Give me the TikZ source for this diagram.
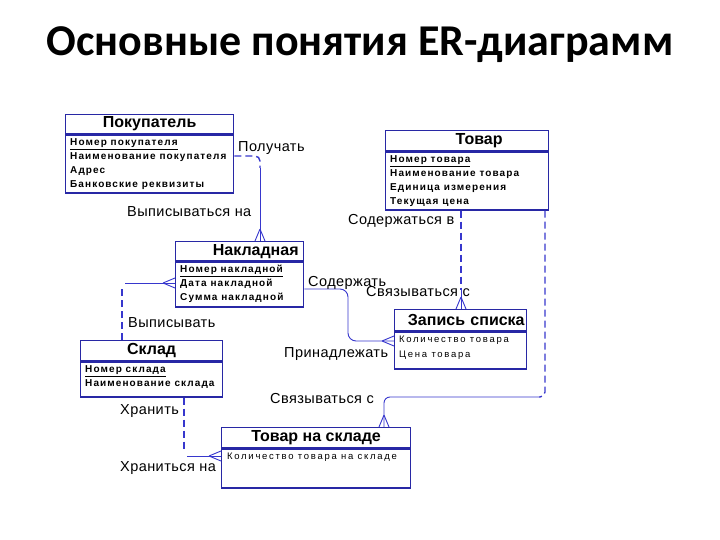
\documentclass[tikz,border=0pt]{standalone}
\usepackage{fontspec}
\setmainfont{Liberation Sans}
\newfontfamily\titlefamily{Carlito}
\newfontfamily\attrfamily[LetterSpace=11]{Liberation Sans}
\newfontfamily\thinfamily[LetterSpace=18]{Liberation Sans}
\newfontfamily\lblfamily[LetterSpace=3]{Liberation Sans}
\usepackage{tikz}
\usetikzlibrary{calc}
\usepackage{xcolor}
\definecolor{erblue}{RGB}{40,40,165}
\definecolor{lnblue}{RGB}{55,55,205}
\newcommand{\lblfont}{\fontsize{14.5}{16}\selectfont\lblfamily}
\newcommand{\headfont}{\fontsize{16}{18}\selectfont\bfseries}
\newcommand{\attrfont}{\fontsize{10}{14}\selectfont\attrfamily\bfseries}
\newcommand{\thinfont}{\fontsize{9.5}{15}\selectfont\thinfamily}

\begin{document}
\begin{tikzpicture}[x=1pt,y=-1pt,font=\lblfont]
      \tikzstyle{enthead}=[draw=erblue,line width=1.3pt,anchor=north west,inner sep=0pt,font=\headfont]
      \tikzstyle{entbody}=[draw=erblue,line width=1.3pt,anchor=north west,inner sep=0pt]
      \tikzstyle{attr}=[anchor=north west,align=left,inner xsep=0pt,inner ysep=4pt,font=\attrfont]
      \tikzstyle{attr thin}=[attr,font=\thinfont]
      \tikzstyle{rel}=[anchor=base west,inner sep=0pt]
      \tikzstyle{conn}=[lnblue,line width=0.9pt]
      \tikzstyle{conn dash}=[lnblue,line width=1.4pt,dash pattern=on 7pt off 4pt]
      \tikzset{crow/.pic={\draw[conn] (-12,0) -- (0,-5) (-12,0) -- (0,5);}}
      \useasboundingbox (0,0) rectangle (720,540);
      \node(title) at (360,45) {\fontsize{44}{48}\selectfont\titlefamily\bfseries Основные понятия ER-диаграмм};
      % entities
      \node(pok)[enthead,minimum width=168pt,minimum height=19pt] at (65,114) {Покупатель};
      \node(pokb)[entbody,minimum width=168pt,minimum height=58pt] at (pok.south west) {};
      \node(poka)[attr] at ([xshift=5pt]pokb.north west) {\underline{Номер покупателя}\\Наименование покупателя\\Адрес\\Банковские реквизиты};
      \node(tovar)[enthead,minimum width=163pt,minimum height=20pt] at (385,130) {\hspace*{24pt}Товар};
      \node(tovarb)[entbody,minimum width=163pt,minimum height=58pt] at (tovar.south west) {};
      \node(tovara)[attr] at ([xshift=5pt]tovarb.north west) {\underline{Номер товара}\\Наименование товара\\Единица измерения\\Текущая цена};
      \node(nakl)[enthead,minimum width=128pt,minimum height=19pt,text width=118pt,align=right] at (175,241) {Накладная};
      \node(naklb)[entbody,minimum width=128pt,minimum height=45pt] at (nakl.south west) {};
      \node(nakla)[attr] at ([xshift=5pt]naklb.north west) {\underline{Номер накладной}\\Дата накладной\\Сумма накладной};
      \node(zap)[enthead,minimum width=132pt,minimum height=21pt,text width=128pt,align=right] at (394,309) {Запись списка};
      \node(zapb)[entbody,minimum width=132pt,minimum height=37pt] at (zap.south west) {};
      \node(zapa)[attr thin] at ([xshift=5pt]zapb.north west) {Количество товара\\Цена товара};
      \node(sklad)[enthead,minimum width=142pt,minimum height=20pt] at (80,340) {Склад};
      \node(skladb)[entbody,minimum width=142pt,minimum height=35pt] at (sklad.south west) {};
      \node(sklada)[attr] at ([xshift=5pt]skladb.north west) {\underline{Номер склада}\\Наименование склада};
      \node(tns)[enthead,minimum width=189pt,minimum height=20pt] at (221,427) {Товар на складе};
      \node(tnsb)[entbody,minimum width=189pt,minimum height=39pt] at (tns.south west) {};
      \node(tnsa)[attr thin] at ([xshift=6pt]tnsb.north west) {Количество товара на складе};
      % bends
      \coordinate(b1) at (260,156);
      \coordinate(b2) at (461,290);
      \coordinate(b3) at (348,289);
      \coordinate(b3b) at (348,341);
      \coordinate(b4) at (122,283);
      \coordinate(b5) at (184,456);
      \coordinate(b6) at (545,397);
      \coordinate(b6b) at (384,397);
      % Покупатель -- Накладная
      \draw[conn dash,rounded corners=5pt] (pokb.east |- b1) -- (b1) -- ++(0,12) coordinate(b1e);
      \draw[conn] (b1e) -- (nakl.north -| b1);
      \pic[rotate=-90] at (nakl.north -| b1) {crow};
      \node(r1)[rel] at (238,152) {Получать};
      \node(r2)[rel] at (127,217) {Выписываться на};
      % Товар -- Запись списка
      \draw[conn dash] (tovarb.south -| b2) -- (b2);
      \draw[conn] (b2) -- (zap.north -| b2);
      \pic[rotate=-90] at (zap.north -| b2) {crow};
      \node(r3)[rel] at (348,225) {Содержаться в};
      \node(r4)[rel] at (366,296) {Связываться с};
      % Накладная -- Запись списка
      \draw[conn,rounded corners=8pt] (naklb.east |- b3) -- (b3) -- (b3b) -- (zapb.west |- b3b);
      \pic at (zapb.west |- b3b) {crow};
      \node(r5)[rel] at (308,286) {Содержать};
      \node(r6)[rel] at (284,357) {Принадлежать};
      % Склад -- Накладная
      \draw[conn dash] (sklad.north -| b4) -- ([yshift=-6pt]b4);
      \draw[conn] ([xshift=3pt]b4) -- (naklb.west |- b4);
      \pic at (naklb.west |- b4) {crow};
      \node(r7)[rel] at (128,327) {Выписывать};
      % Склад -- Товар на складе
      \draw[conn dash] (skladb.south -| b5) -- ([yshift=6pt]b5);
      \draw[conn] ([xshift=3pt]b5) -- (tnsb.west |- b5);
      \pic at (tnsb.west |- b5) {crow};
      \node(r8)[rel] at (120,414) {Хранить};
      \node(r9)[rel] at (120,471) {Храниться на};
      % Товар -- Товар на складе
      \draw[conn dash,rounded corners=5pt] (tovarb.south -| b6) -- (b6) -- ++(-6,0);
      \draw[conn,rounded corners=6pt] ([xshift=-6pt]b6) -- (b6b) -- (tns.north -| b6b);
      \pic[rotate=-90] at (tns.north -| b6b) {crow};
      \node(r10)[rel] at (270,403) {Связываться с};
\end{tikzpicture}
\end{document}
